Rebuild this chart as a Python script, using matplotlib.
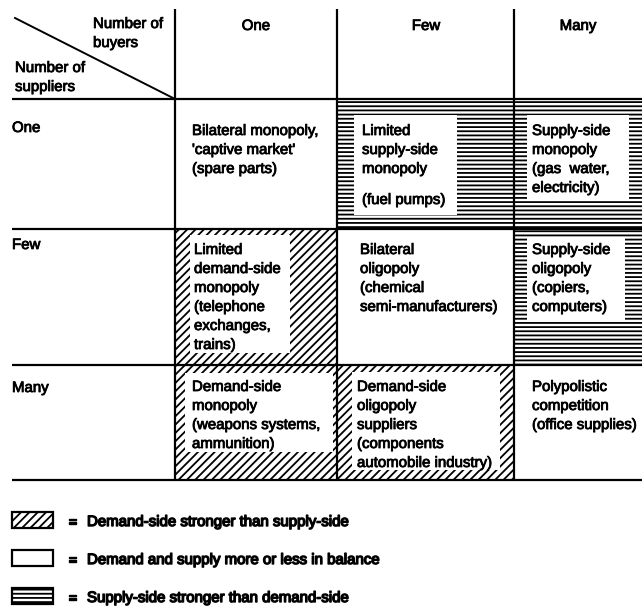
import matplotlib.pyplot as plt
from matplotlib.patches import Rectangle
import matplotlib.patheffects as pe

plt.rcParams['font.family'] = ['Liberation Sans', 'DejaVu Sans']
plt.rcParams['hatch.linewidth'] = 1.3

# table content
buyers = ["One", "Few", "Many"]
suppliers = ["One", "Few", "Many"]
cell_text = [
    [["Bilateral monopoly,", "'captive market'", "(spare parts)"],
     ["Limited", "supply-side", "monopoly", "", "(fuel pumps)"],
     ["Supply-side", "monopoly", "(gas  water,", "electricity)"]],
    [["Limited", "demand-side", "monopoly", "(telephone", "exchanges,", "trains)"],
     ["Bilateral", "oligopoly", "(chemical", "semi-manufacturers)"],
     ["Supply-side", "oligopoly", "(copiers,", "computers)"]],
    [["Demand-side", "monopoly", "(weapons systems,", "ammunition)"],
     ["Demand-side", "oligopoly", "suppliers", "(components", "automobile industry)"],
     ["Polypolistic", "competition", "(office supplies)"]],
]
# which side is stronger in each cell
balance = [["even", "supply", "supply"],
           ["demand", "even", "supply"],
           ["demand", "demand", "even"]]
legend_kinds = ["demand", "even", "supply"]
legend_labels = ["Demand-side stronger than supply-side",
                 "Demand and supply more or less in balance",
                 "Supply-side stronger than demand-side"]

# layout (pixels)
col_edges = [175, 337, 514, 642]
row_edges = [99, 229, 365, 480]
hatch_of = {"demand": "////", "even": None, "supply": "----"}
# white inner box: left, top, right, bottom insets
insets = [[None, (17, 16, 57, 14), (13, 16, 13, 29)],
          [(15, 6, 47, 12), None, (13, 8, 17, 45)],
          [(10, 8, 4, 28), (15, 7, 14, 10), None]]
text_dx = [[17, 25, 18], [19, 23, 18], [17, 20, 18]]
first_line = [131, 250, 387]
line_h = 19

fig = plt.figure(figsize=(6.42, 6.12), dpi=100)
ax = fig.add_axes([0, 0, 1, 1])
ax.set_xlim(0, 642)
ax.set_ylim(612, 0)
ax.axis('off')

fx = [pe.withStroke(linewidth=0.6, foreground='black')]
fs = 10.8

for r in range(3):
    for c in range(3):
        x0, x1 = col_edges[c], col_edges[c + 1]
        y0, y1 = row_edges[r], row_edges[r + 1]
        h = hatch_of[balance[r][c]]
        if h:
            ax.add_patch(Rectangle((x0, y0), x1 - x0, y1 - y0, facecolor='white',
                                   edgecolor='black', linewidth=0, hatch=h))
            l, t, rr, b = insets[r][c]
            ax.add_patch(Rectangle((x0 + l, y0 + t), x1 - x0 - l - rr, y1 - y0 - t - b,
                                   facecolor='white', edgecolor='none'))
        y = first_line[r]
        for line in cell_text[r][c]:
            if line == "":
                y += 12
                continue
            ax.text(x0 + text_dx[r][c], y, line, fontsize=fs, va='center', ha='left',
                    path_effects=fx)
            y += line_h

# grid lines
for x in col_edges[:3]:
    ax.plot([x, x], [9, 480], color='black', lw=1.6, solid_capstyle='butt')
for y in row_edges:
    ax.plot([12, 642], [y, y], color='black', lw=1.6, solid_capstyle='butt')
ax.plot([15, 175], [18, 99], color='black', lw=1.4)

# headers
head_x = [256, 426, 578]
for i, b in enumerate(buyers):
    ax.text(head_x[i], 26, b, fontsize=fs, ha='center', va='center', path_effects=fx)
row_y = [128, 245, 388]
for i, s in enumerate(suppliers):
    ax.text(12, row_y[i], s, fontsize=fs, ha='left', va='center', path_effects=fx)
ax.text(93, 24, "Number of", fontsize=fs, va='center', path_effects=fx)
ax.text(93, 43, "buyers", fontsize=fs, va='center', path_effects=fx)
ax.text(15, 68, "Number of", fontsize=fs, va='center', path_effects=fx)
ax.text(15, 87, "suppliers", fontsize=fs, va='center', path_effects=fx)

# legend
fx2 = [pe.withStroke(linewidth=1.0, foreground='black')]
leg_y = [520, 558, 596]
for i, k in enumerate(legend_kinds):
    ax.add_patch(Rectangle((12, leg_y[i] - 8), 41, 16, facecolor='white',
                           edgecolor='black', linewidth=1.6, hatch=hatch_of[k]))
    ax.text(68, leg_y[i] + 2, "=", fontsize=10.5, ha='left', va='center', path_effects=fx2)
    ax.text(87, leg_y[i] + 2, legend_labels[i], fontsize=10.8, ha='left',
            va='center', path_effects=fx2)

fig.savefig('out.png', dpi=100)
